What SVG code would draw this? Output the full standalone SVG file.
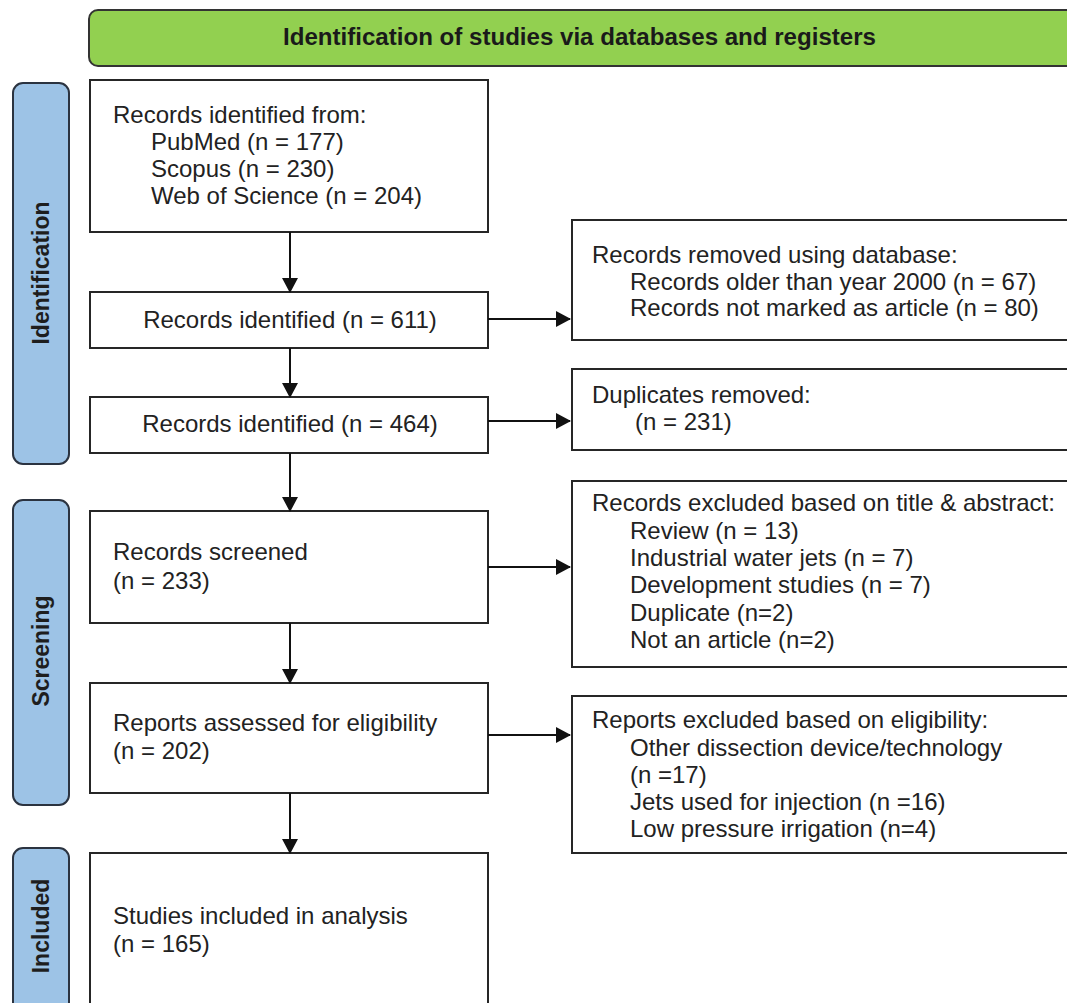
<svg xmlns="http://www.w3.org/2000/svg" width="1067" height="1003" viewBox="0 0 1067 1003">
  <style>
    .box { fill: #ffffff; stroke: #262626; stroke-width: 2; }
    .phase { fill: #9DC3E6; stroke: #2b3340; stroke-width: 2; }
    .head { fill: #92D050; stroke: #333333; stroke-width: 2; }
    .t { font-family: "Liberation Sans", Arial, sans-serif; font-size: 24px; fill: #222222; }
    .c { text-anchor: middle; }
    .pl { font-family: "Liberation Sans", Arial, sans-serif; font-size: 23px; font-weight: bold; fill: #1e1e1e; text-anchor: middle; }
    .ht { font-family: "Liberation Sans", Arial, sans-serif; font-size: 23.5px; font-weight: bold; fill: #1a1a1a; }
    .link { fill: none; stroke: #111111; stroke-width: 2; marker-end: url(#arrow); }
  </style>
  <defs>
    <marker id="arrow" markerUnits="userSpaceOnUse" markerWidth="15" markerHeight="16" refX="14" refY="8" orient="auto">
      <path d="M0,0 L15,8 L0,16 z" fill="#111111"/>
    </marker>
  </defs>

  <rect width="1067" height="1003" fill="#ffffff"/>

  <!-- title banner -->
  <g id="header">
    <rect class="head" x="89" y="10" width="1000" height="56" rx="9"/>
    <text class="ht" x="283" y="45" textLength="593" lengthAdjust="spacingAndGlyphs">Identification of studies via databases and registers</text>
  </g>

  <!-- phase labels -->
  <g id="phase-identification">
    <rect class="phase" x="13" y="83" width="56" height="381" rx="10"/>
    <text class="pl" transform="translate(49,273) rotate(-90)">Identification</text>
  </g>
  <g id="phase-screening">
    <rect class="phase" x="13" y="500" width="56" height="305" rx="10"/>
    <text class="pl" transform="translate(49,651) rotate(-90)">Screening</text>
  </g>
  <g id="phase-included">
    <rect class="phase" x="13" y="848" width="56" height="180" rx="10"/>
    <text class="pl" transform="translate(49,926) rotate(-90)">Included</text>
  </g>

  <!-- main column -->
  <g id="records-sources">
    <rect class="box" x="90" y="80" width="398" height="152"/>
    <text class="t" x="113" y="123">Records identified from:</text>
    <text class="t" x="151" y="150">PubMed (n = 177)</text>
    <text class="t" x="151" y="177">Scopus (n = 230)</text>
    <text class="t" x="151" y="204">Web of Science (n = 204)</text>
  </g>
  <g id="records-611">
    <rect class="box" x="90" y="292" width="398" height="56"/>
    <text class="t c" x="290" y="328">Records identified (n = 611)</text>
  </g>
  <g id="records-464">
    <rect class="box" x="90" y="397" width="398" height="56"/>
    <text class="t c" x="290" y="432">Records identified (n = 464)</text>
  </g>
  <g id="records-screened">
    <rect class="box" x="90" y="511" width="398" height="112"/>
    <text class="t" x="113" y="560">Records screened</text>
    <text class="t" x="113" y="589">(n = 233)</text>
  </g>
  <g id="reports-assessed">
    <rect class="box" x="90" y="683" width="398" height="110"/>
    <text class="t" x="113" y="731">Reports assessed for eligibility</text>
    <text class="t" x="113" y="759">(n = 202)</text>
  </g>
  <g id="studies-included">
    <rect class="box" x="90" y="853" width="398" height="180"/>
    <text class="t" x="113" y="924">Studies included in analysis</text>
    <text class="t" x="113" y="952">(n = 165)</text>
  </g>

  <!-- exclusion column -->
  <g id="removed-database">
    <rect class="box" x="572" y="220" width="520" height="120"/>
    <text class="t" x="592" y="263">Records removed using database:</text>
    <text class="t" x="630" y="290">Records older than year 2000 (n = 67)</text>
    <text class="t" x="630" y="316">Records not marked as article (n = 80)</text>
  </g>
  <g id="duplicates-removed">
    <rect class="box" x="572" y="369" width="520" height="81"/>
    <text class="t" x="592" y="403">Duplicates removed:</text>
    <text class="t" x="635" y="430">(n = 231)</text>
  </g>
  <g id="excluded-title-abstract">
    <rect class="box" x="572" y="481" width="520" height="186"/>
    <text class="t" x="592" y="511">Records excluded based on title &amp; abstract:</text>
    <text class="t" x="630" y="539">Review (n = 13)</text>
    <text class="t" x="630" y="566">Industrial water jets (n = 7)</text>
    <text class="t" x="630" y="593">Development studies (n = 7)</text>
    <text class="t" x="630" y="621">Duplicate (n=2)</text>
    <text class="t" x="630" y="648">Not an article (n=2)</text>
  </g>
  <g id="excluded-eligibility">
    <rect class="box" x="572" y="696" width="520" height="157"/>
    <text class="t" x="592" y="728">Reports excluded based on eligibility:</text>
    <text class="t" x="630" y="756">Other dissection device/technology</text>
    <text class="t" x="630" y="783">(n =17)</text>
    <text class="t" x="630" y="810">Jets used for injection (n =16)</text>
    <text class="t" x="630" y="837">Low pressure irrigation (n=4)</text>
  </g>

  <!-- connectors -->
  <g id="connectors">
    <line class="link" x1="290" y1="232" x2="290" y2="292"/>
    <line class="link" x1="290" y1="348" x2="290" y2="397"/>
    <line class="link" x1="290" y1="453" x2="290" y2="511"/>
    <line class="link" x1="290" y1="623" x2="290" y2="683"/>
    <line class="link" x1="290" y1="793" x2="290" y2="853"/>
    <line class="link" x1="488" y1="319" x2="570" y2="319"/>
    <line class="link" x1="488" y1="421" x2="570" y2="421"/>
    <line class="link" x1="488" y1="567" x2="570" y2="567"/>
    <line class="link" x1="488" y1="735" x2="570" y2="735"/>
  </g>
</svg>
